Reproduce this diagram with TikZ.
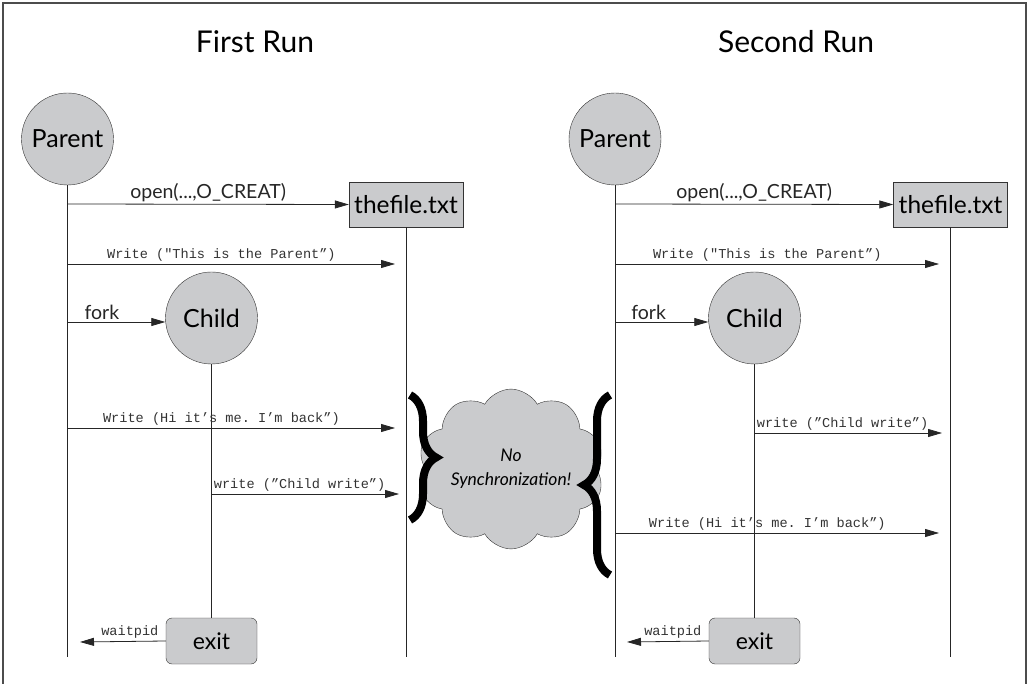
\documentclass[tikz,border=0pt]{standalone}
\usepackage{fontspec}
\setmainfont{Lato}
\setmonofont{Liberation Mono}
\usetikzlibrary{arrows.meta,positioning,shapes.symbols,decorations.pathreplacing}
\definecolor{procgray}{HTML}{CACBCD}
\definecolor{codegray}{HTML}{333333}

\begin{document}
\begin{tikzpicture}[x=1pt,y=-1pt,
  proc/.style={circle,draw=black!80,fill=procgray,minimum size=92pt,inner sep=0pt,
    font=\fontsize{25}{28}\selectfont},
  filebox/.style={rectangle,draw=black!80,fill=procgray,minimum width=114pt,minimum height=45pt,
    inner sep=0pt,font=\fontsize{24.5}{28}\selectfont},
  term/.style={rectangle,rounded corners=6pt,draw=black!80,fill=procgray,minimum width=91pt,
    minimum height=46pt,inner sep=0pt,font=\fontsize{23}{26}\selectfont},
  runtitle/.style={font=\fontsize{30}{34}\selectfont},
  life/.style={draw=black!85,line width=0.8pt},
  msg/.style={-{Triangle[length=14pt,width=8pt]},line width=0.8pt,black!85},
  lbl/.style={font=\fontsize{19.5}{22}\selectfont,inner sep=2pt},
  mono/.style={font=\ttfamily\fontsize{13.6}{16}\selectfont,text=codegray,inner sep=2pt},
  bracket/.style={decorate,decoration={brace,amplitude=26pt},line width=8pt},
  note/.style={cloud,cloud puffs=10,cloud puff arc=120,aspect=1.25,draw=black!80,fill=procgray,
    minimum width=156pt,minimum height=126pt,inner sep=0pt,align=center,
    font=\itshape\fontsize{17.5}{24}\selectfont}]
  \useasboundingbox (0,0) rectangle (1029,684);
  \draw[black!70,line width=1.3pt] (3,684) -- (3,3) -- (1026,3) -- (1026,684);

  % first run
  \node[runtitle] (t1) at (255,42) {First Run};
  \node[proc]    (p1) at (67.5,139)  {Parent};
  \node[filebox] (f1) at (406,204.5) {thefile.txt};
  \node[proc]    (c1) at (211.5,318) {Child};
  \node[term]    (e1) at (211.5,641) {exit};
  \coordinate (p1end) at (67.5,657);
  \coordinate (f1end) at (406,657);
  \draw[life] (p1) -- (p1end);
  \draw[life] (f1) -- (f1end);
  \draw[life] (c1) -- (e1);
  \coordinate (p1a) at (67.5,204);
  \coordinate (p1b) at (67.5,264);  \coordinate (f1b) at (395,264);
  \coordinate (p1c) at (67.5,322);
  \coordinate (p1d) at (67.5,428);  \coordinate (f1d) at (395,428);
  \coordinate (c1a) at (211.5,494); \coordinate (f1e) at (399,494);
  \coordinate (p1w) at (80,642);
  \draw[msg] (p1a) -- (f1.west) node[lbl,midway,above] {open(...,O\_CREAT)};
  \draw[msg] (p1b) -- (f1b) node[mono,pos=0.47,above] {Write ("This is the Parent”)};
  \draw[msg] (p1c) -- (p1c -| c1.west) node[lbl,pos=0.15,above right] {fork};
  \draw[msg] (p1d) -- (f1d) node[mono,pos=0.47,above] {Write (Hi it’s me. I’m back”)};
  \draw[msg] (c1a) -- (f1e) node[mono,pos=0,above right] {write (”Child write”)};
  \draw[msg] (e1.west) -- (p1w) node[mono,pos=0,above left,xshift=-5pt] {waitpid};

  % second run
  \node[runtitle] (t2) at (796,42) {Second Run};
  \node[proc]    (p2) at (615,139)   {Parent};
  \node[filebox] (f2) at (950.5,204.5) {thefile.txt};
  \node[proc]    (c2) at (754.5,318) {Child};
  \node[term]    (e2) at (754.5,641) {exit};
  \coordinate (p2end) at (615,657);
  \coordinate (f2end) at (950.5,657);
  \draw[life] (p2) -- (p2end);
  \draw[life] (f2) -- (f2end);
  \draw[life] (c2) -- (e2);
  \coordinate (p2a) at (615,204);
  \coordinate (p2b) at (615,264);   \coordinate (f2b) at (939,264);
  \coordinate (p2c) at (615,322);
  \coordinate (c2a) at (754.5,433); \coordinate (f2c) at (942,433);
  \coordinate (p2d) at (615,533);   \coordinate (f2d) at (939,533);
  \coordinate (p2w) at (627,642);
  \draw[msg] (p2a) -- (f2.west) node[lbl,midway,above] {open(...,O\_CREAT)};
  \draw[msg] (p2b) -- (f2b) node[mono,pos=0.47,above] {Write ("This is the Parent”)};
  \draw[msg] (p2c) -- (p2c -| c2.west) node[lbl,pos=0.15,above right] {fork};
  \draw[msg] (c2a) -- (f2c) node[mono,pos=0,above right] {write (”Child write”)};
  \draw[msg] (p2d) -- (f2d) node[mono,pos=0.47,above] {Write (Hi it’s me. I’m back”)};
  \draw[msg] (e2.west) -- (p2w) node[mono,pos=0,above left,xshift=-5pt] {waitpid};

  % no synchronization
  \node[note] (sync) at (511,469) {No\\Synchronization!};
  \coordinate (b1top) at (410,395); \coordinate (b1bot) at (410,520);
  \coordinate (b2top) at (610,395); \coordinate (b2bot) at (610,575);
  \draw[bracket] (b1top) -- (b1bot);
  \draw[bracket] (b2bot) -- (b2top);
\end{tikzpicture}
\end{document}
